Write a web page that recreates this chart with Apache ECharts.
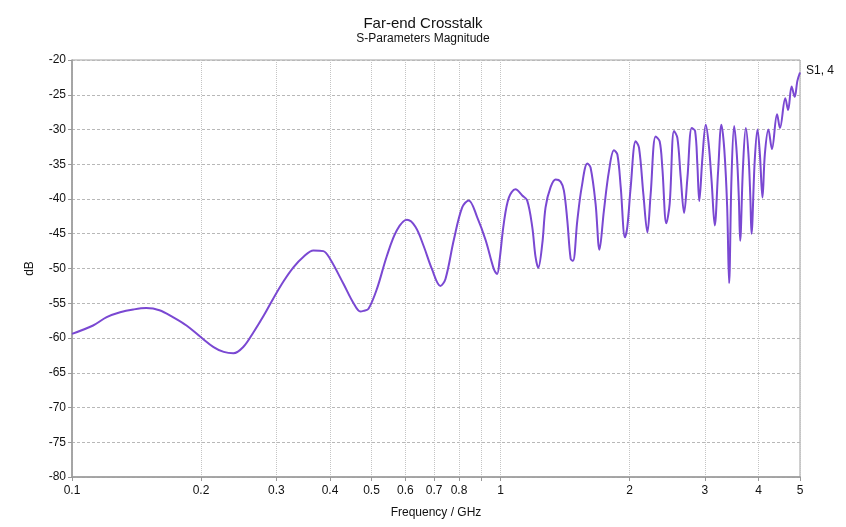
<!DOCTYPE html>
<html>
<head>
<meta charset="utf-8">
<script src="https://cdn.jsdelivr.net/npm/echarts@6/dist/echarts.min.js"></script>
<style>
html,body{margin:0;padding:0;background:#fff;}
#chart{width:846px;height:527px;}
</style>
</head>
<body>
<div id="chart"></div>
<script>
const titleText = 'Far-end Crosstalk';
const subtitleText = 'S-Parameters Magnitude';
const xAxisName = 'Frequency / GHz';
const yAxisName = 'dB';
const seriesName = 'S1, 4';

const xTickValues = [0.1, 0.2, 0.3, 0.4, 0.5, 0.6, 0.7, 0.8, 0.9, 1, 2, 3, 4, 5];
const xLabelValues = [0.1, 0.2, 0.3, 0.4, 0.5, 0.6, 0.7, 0.8, 1, 2, 3, 4, 5];
const yMin = -80, yMax = -20, yStep = 5;

const freqGHz = [
  0.1, 0.112, 0.1205, 0.1295, 0.139, 0.149, 0.16, 0.172, 0.185, 0.2,
  0.214, 0.226, 0.238, 0.251, 0.265, 0.28, 0.295, 0.312, 0.329, 0.347,
  0.366, 0.386, 0.4, 0.43, 0.454, 0.471, 0.479, 0.492, 0.515, 0.543,
  0.573, 0.605, 0.633, 0.662, 0.692, 0.724, 0.744, 0.778, 0.814, 0.843,
  0.882, 0.923, 0.965, 0.982, 0.995, 1.018, 1.046, 1.084, 1.124, 1.154,
  1.186, 1.207, 1.225, 1.252, 1.274, 1.309, 1.345, 1.381, 1.406, 1.432,
  1.458, 1.476, 1.511, 1.547, 1.595, 1.623, 1.667, 1.702, 1.743, 1.791,
  1.840, 1.874, 1.908, 1.952, 1.977, 2.013, 2.068, 2.105, 2.155, 2.202,
  2.241, 2.302, 2.352, 2.386, 2.438, 2.482, 2.541, 2.587, 2.634, 2.682,
  2.731, 2.795, 2.845, 2.880, 2.910, 2.960, 3.013, 3.060, 3.110, 3.162,
  3.220, 3.278, 3.330, 3.380, 3.416, 3.460, 3.510, 3.560, 3.600, 3.625,
  3.680, 3.737, 3.790, 3.830, 3.853, 3.920, 3.979, 4.030, 4.087, 4.140,
  4.220, 4.300, 4.420, 4.490, 4.620, 4.690, 4.780, 4.860, 4.930, 5.0
];
const s14dB = [
  -59.4, -58.2, -57.0, -56.3, -55.9, -55.7, -56.0, -57.0, -58.2, -59.9,
  -61.3, -62.0, -62.2, -61.3, -59.2, -56.8, -54.3, -51.8, -49.8, -48.3,
  -47.4, -47.5, -48.6, -52.2, -55.0, -56.2, -56.1, -55.8, -52.9, -48.2,
  -44.5, -43.0, -44.0, -46.8, -50.1, -52.5, -51.5, -45.9, -41.2, -40.2,
  -42.6, -45.9, -50.1, -50.8, -48.8, -43.5, -39.8, -38.6, -39.5, -40.2,
  -44.0, -48.3, -49.9, -46.4, -41.2, -38.3, -37.2, -37.5, -38.8, -43.1,
  -48.6, -48.9, -43.1, -38.3, -34.9, -35.5, -40.7, -47.3, -41.7, -36.0,
  -33.0, -33.6, -38.3, -45.5, -44.0, -38.3, -31.7, -32.6, -39.3, -44.8,
  -39.3, -31.0, -31.7, -35.5, -43.5, -40.7, -30.2, -31.2, -36.9, -42.0,
  -36.9, -29.8, -30.2, -35.0, -40.3, -34.0, -29.3, -32.0, -37.5, -43.8,
  -36.0, -29.3, -33.0, -41.0, -52.1, -37.0, -29.5, -33.5, -40.0, -46.0,
  -35.5, -29.8, -33.5, -40.0, -45.0, -34.5, -30.0, -33.5, -39.8, -33.5,
  -30.0, -32.8, -27.8, -29.8, -25.5, -27.2, -23.8, -25.3, -23.0, -21.8
];

const seriesData = freqGHz.map((f, i) => [f, s14dB[i]]);

const chart = echarts.init(document.getElementById('chart'), null, {renderer: 'canvas'});
const fontFamily = 'Liberation Sans, Arial, sans-serif';

chart.setOption({
  backgroundColor: '#ffffff',
  animation: false,
  title: {
    text: titleText,
    subtext: subtitleText,
    left: 'center',
    top: 11,
    itemGap: 2,
    textStyle: {fontSize: 15, fontWeight: 'normal', color: '#111', fontFamily: fontFamily},
    subtextStyle: {fontSize: 12, color: '#111', fontFamily: fontFamily}
  },
  grid: {
    left: 72, right: 46, top: 60, bottom: 50,
    show: true, borderColor: '#a0a0a0', borderWidth: 1
  },
  xAxis: {
    type: 'log',
    logBase: 10,
    min: 0.1,
    max: 5,
    name: xAxisName,
    nameLocation: 'middle',
    nameGap: 30,
    nameTextStyle: {fontSize: 12, color: '#111', fontFamily: fontFamily},
    axisLine: {show: true, lineStyle: {color: '#999', width: 1.5}},
    axisTick: {show: true, customValues: xTickValues, length: 4, lineStyle: {color: '#999'}},
    axisLabel: {
      customValues: xLabelValues,
      fontSize: 12, color: '#111', fontFamily: fontFamily, margin: 8,
      formatter: v => String(+(+v).toFixed(2))
    },
    splitLine: {show: true, lineStyle: {color: '#c4c4c4', type: 'dotted', width: 1}},
    minorSplitLine: {show: false}
  },
  yAxis: {
    type: 'value',
    min: yMin,
    max: yMax,
    interval: yStep,
    name: yAxisName,
    nameLocation: 'middle',
    nameGap: 36,
    nameRotate: 90,
    nameTextStyle: {fontSize: 12, color: '#111', fontFamily: fontFamily},
    axisLine: {show: true, lineStyle: {color: '#999', width: 1.5}},
    axisTick: {show: true, length: 4, lineStyle: {color: '#999'}},
    axisLabel: {fontSize: 12, color: '#111', fontFamily: fontFamily, margin: 6},
    splitLine: {show: true, lineStyle: {color: '#b8b8b8', type: [3, 2], width: 1.2}}
  },
  series: [{
    name: seriesName,
    type: 'line',
    data: seriesData,
    showSymbol: false,
    smooth: 0.35,
    lineStyle: {color: '#7a48d2', width: 2},
    itemStyle: {color: '#7a48d2'},
    endLabel: {
      show: true,
      formatter: seriesName,
      color: '#111',
      fontSize: 12,
      fontFamily: fontFamily,
      distance: 6,
      offset: [0, -2]
    },
    z: 3
  }]
});
</script>
</body>
</html>
